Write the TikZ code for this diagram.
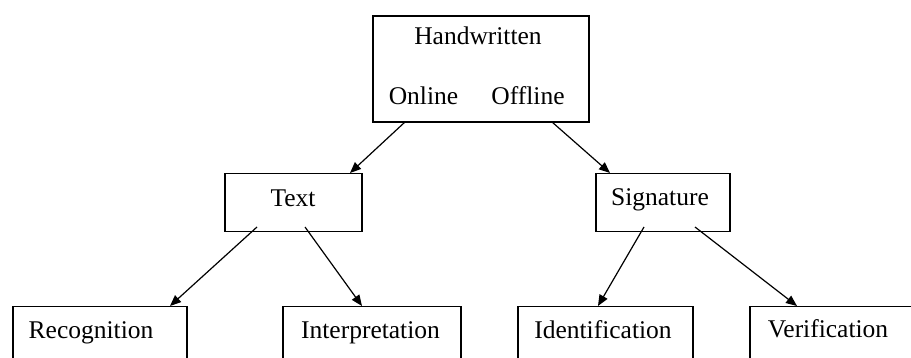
\documentclass[tikz,border=0pt]{standalone}
\usepackage{fontspec}
\setmainfont{Liberation Serif}
\usetikzlibrary{arrows.meta}
\begin{document}
\begin{tikzpicture}[x=1pt,y=-1pt,
  box/.style={draw=black,line width=1.5pt,fill=white,inner sep=0pt,anchor=north west},
  lbl/.style={anchor=base,inner sep=0pt,font=\fontsize{25.5}{30}\selectfont},
  conn/.style={line width=1.2pt,-{Triangle[length=11pt,width=9pt]}}]
\useasboundingbox (0,0) rectangle (911,358);
\clip (0,0) rectangle (911,358);
% boxes
\node[box,line width=2pt,minimum width=216pt,minimum height=106pt] (hw) at (372,15) {};
\node[box,minimum width=137pt,minimum height=58pt] (tx) at (224,173) {};
\node[box,minimum width=134pt,minimum height=58pt] (sg) at (595,173) {};
\node[box,minimum width=174pt,minimum height=80pt] (rc) at (12,306) {};
\node[box,minimum width=178pt,minimum height=80pt] (ip) at (282,306) {};
\node[box,minimum width=175pt,minimum height=80pt] (id) at (517,306) {};
\node[box,minimum width=180pt,minimum height=80pt] (vf) at (749,306) {};
% labels
\node[lbl] (hwt) at (478,45) {Handwritten};
\node[lbl] (onl) at (423.5,105) {Online};
\node[lbl] (ofl) at (528,105) {Offline};
\node[lbl] (txt) at (293,206.5) {Text};
\node[lbl] (sgt) at (660,206) {Signature};
\node[lbl] (rct) at (91,338) {Recognition};
\node[lbl] (ipt) at (370.5,338) {Interpretation};
\node[lbl] (idt) at (603,338) {Identification};
\node[lbl] (vft) at (828,337.5) {Verification};
% connector ends
\coordinate (a1s) at (405,122); \coordinate (a1e) at (350,173);
\coordinate (a2s) at (552,122); \coordinate (a2e) at (610,173);
\coordinate (a3s) at (257,227); \coordinate (a3e) at (170,306);
\coordinate (a4s) at (305,227); \coordinate (a4e) at (362,306);
\coordinate (a5s) at (644,227); \coordinate (a5e) at (598,306);
\coordinate (a6s) at (695,227); \coordinate (a6e) at (797,306);
\draw[conn] (a1s) -- (a1e);
\draw[conn] (a2s) -- (a2e);
\draw[conn] (a3s) -- (a3e);
\draw[conn] (a4s) -- (a4e);
\draw[conn] (a5s) -- (a5e);
\draw[conn] (a6s) -- (a6e);
\end{tikzpicture}
\end{document}
